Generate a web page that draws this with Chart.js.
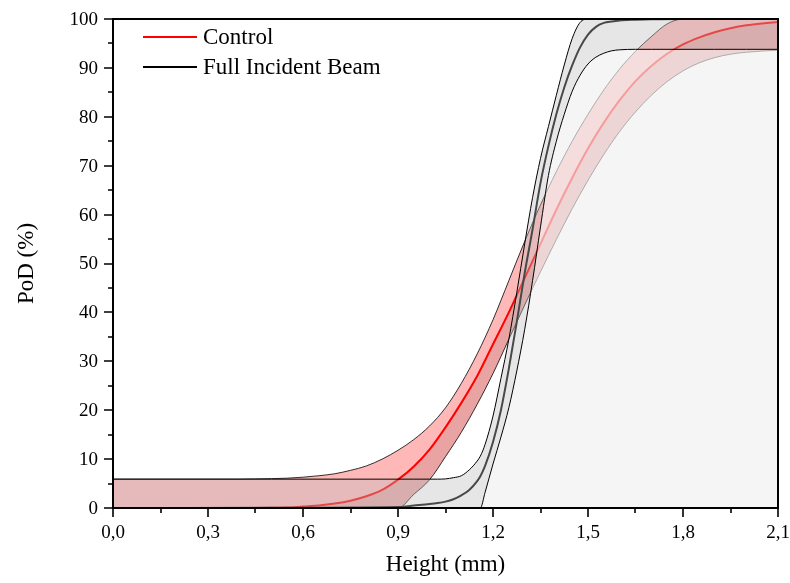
<!DOCTYPE html>
<html lang="en">
<head>
<meta charset="UTF-8">
<title>PoD vs Height</title>
<script src="https://cdn.jsdelivr.net/npm/chart.js"></script>
<style>
  body { margin: 0; background: #fff; }
  #wrap { width: 790px; height: 583px; }
</style>
</head>
<body>
<div id="wrap"><canvas id="podChart" width="790" height="583"></canvas></div>
<script>
// Control (red) curve and its confidence bounds
const redX = [0, 0.3, 0.4, 0.45, 0.5, 0.55, 0.6, 0.65, 0.7, 0.75, 0.8, 0.85, 0.9, 0.95, 1.0, 1.05, 1.1, 1.15, 1.2, 1.25, 1.3, 1.35, 1.4, 1.45, 1.5, 1.55, 1.6, 1.65, 1.7, 1.75, 1.8, 1.85, 1.9, 1.95, 2.0, 2.05, 2.1];
const controlMean  = [0, 0, 0.01, 0.02, 0.05, 0.1, 0.3, 0.5, 0.9, 1.5, 2.4, 3.7, 5.8, 8.5, 12.0, 16.5, 21.5, 27.0, 33.5, 40.0, 47.0, 54.0, 61.0, 67.5, 73.5, 78.8, 83.4, 87.3, 90.4, 92.9, 94.8, 96.2, 97.3, 98.1, 98.7, 99.1, 99.4];
const controlUpper = [5.9, 5.9, 5.9, 5.95, 6.0, 6.1, 6.3, 6.6, 7.0, 7.7, 8.6, 10.0, 11.8, 14.0, 16.8, 20.5, 25.5, 31.5, 38.5, 46.5, 54.5, 62.0, 68.8, 75.0, 80.5, 85.5, 89.8, 93.4, 96.4, 99.0, 100, 100, 100, 100, 100, 100, 100];
const controlLower = [0, 0, 0, 0, 0, 0, 0, 0, 0, 0, 0, 0, 0, 2.8, 5.8, 10.5, 15.5, 21.2, 27.5, 34.5, 41.5, 48.3, 54.9, 61.2, 67.0, 72.3, 77.0, 81.0, 84.4, 87.2, 89.4, 91.0, 92.1, 92.8, 93.2, 93.45, 93.6];

// Full Incident Beam (black) curve and its confidence bounds
const beamX = [0, 0.5, 0.9, 0.95, 1.0, 1.025, 1.05, 1.075, 1.1, 1.125, 1.15, 1.16, 1.175, 1.2, 1.225, 1.25, 1.275, 1.3, 1.325, 1.35, 1.375, 1.4, 1.425, 1.45, 1.475, 1.5, 1.525, 1.55, 1.575, 1.6, 1.65, 1.7, 1.8, 1.9, 2.0, 2.1];
const beamMean  = [0, 0.05, 0.2, 0.5, 0.8, 1.0, 1.3, 1.8, 2.6, 3.7, 5.5, 6.5, 8.6, 13.5, 20.0, 28.5, 38.0, 48.0, 57.0, 66.5, 74.0, 80.5, 86.0, 90.5, 94.2, 96.8, 98.4, 99.2, 99.5, 99.7, 99.85, 99.95, 100, 100, 100, 100];
const beamUpper = [5.9, 5.9, 5.9, 5.9, 5.9, 5.9, 5.95, 6.2, 6.6, 7.8, 9.6, 10.6, 13.0, 18.8, 26.5, 34.5, 44.0, 54.0, 63.5, 71.5, 78.0, 84.4, 90.6, 96.0, 99.3, 100, 100, 100, 100, 100, 100, 100, 100, 100, 100, 100];
const beamLower = [0, 0, 0, 0, 0, 0, 0, 0, 0, 0, 0, 0, 3.2, 9.0, 14.5, 20.5, 28.0, 36.5, 46.5, 57.5, 68.0, 75.0, 80.5, 85.2, 88.5, 90.8, 92.2, 93.0, 93.5, 93.7, 93.8, 93.8, 93.8, 93.8, 93.8, 93.8];

const xTicks = [0, 0.3, 0.6, 0.9, 1.2, 1.5, 1.8, 2.1];
const xTickLabels = ['0,0', '0,3', '0,6', '0,9', '1,2', '1,5', '1,8', '2,1'];
const yTicks = [0, 10, 20, 30, 40, 50, 60, 70, 80, 90, 100];
const yTickLabels = ['0', '10', '20', '30', '40', '50', '60', '70', '80', '90', '100'];

const legendLabels = ['Control', 'Full Incident Beam'];
const legendColors = ['#ff0000', '#000000'];

const FONT = '"Liberation Serif", "Times New Roman", serif';

function pts(xs, ys) {
    return xs.map((x, i) => ({ x: x, y: ys[i] }));
}

const common = { pointRadius: 0, cubicInterpolationMode: 'monotone' };

// dataset indices: 0 RU, 1 RL, 2 RM, 3 BM, 4 BU, 5 BL
const datasets = [
    Object.assign({ data: pts(redX, controlUpper), borderColor: '#000', borderWidth: 0.8,
        backgroundColor: 'rgba(255,0,0,0.28)', fill: 2, order: 60 }, common),
    Object.assign({ data: pts(redX, controlLower), borderColor: '#000', borderWidth: 0.8,
        backgroundColor: 'rgba(194,0,0,0.36)', fill: 2, order: 50 }, common),
    Object.assign({ data: pts(redX, controlMean), borderColor: '#ff0000', borderWidth: 2,
        fill: false, order: 40 }, common),
    Object.assign({ data: pts(beamX, beamMean), borderColor: '#000', borderWidth: 2,
        fill: false, order: 35 }, common),
    Object.assign({ data: pts(beamX, beamUpper), borderColor: '#000', borderWidth: 1,
        backgroundColor: 'rgba(189,189,189,0.38)', fill: 5, order: 30 }, common),
    Object.assign({ data: pts(beamX, beamLower), borderColor: '#000', borderWidth: 1,
        backgroundColor: 'rgba(240,240,240,0.65)', fill: 'origin', order: 20 }, common)
];

const axesPlugin = {
    id: 'axesPlugin',
    afterDraw(chart) {
        const { ctx, chartArea: a, scales } = chart;
        const xs = scales.x, ys = scales.y;
        ctx.save();
        ctx.strokeStyle = '#000';
        ctx.fillStyle = '#000';

        // frame
        ctx.lineWidth = 2;
        ctx.strokeRect(a.left, a.top, a.right - a.left, a.bottom - a.top);

        // ticks
        ctx.lineWidth = 1.6;
        ctx.beginPath();
        xTicks.forEach((v, i) => {
            const px = Math.round(xs.getPixelForValue(v));
            ctx.moveTo(px, a.bottom); ctx.lineTo(px, a.bottom + 9);
            if (i < xTicks.length - 1) {
                const mx = Math.round(xs.getPixelForValue((v + xTicks[i + 1]) / 2));
                ctx.moveTo(mx, a.bottom); ctx.lineTo(mx, a.bottom + 5);
            }
        });
        yTicks.forEach((v, i) => {
            const py = Math.round(ys.getPixelForValue(v));
            ctx.moveTo(a.left, py); ctx.lineTo(a.left - 9, py);
            if (i < yTicks.length - 1) {
                const my = Math.round(ys.getPixelForValue((v + yTicks[i + 1]) / 2));
                ctx.moveTo(a.left, my); ctx.lineTo(a.left - 5, my);
            }
        });
        ctx.stroke();

        // tick labels
        ctx.font = '19px ' + FONT;
        ctx.textAlign = 'center';
        ctx.textBaseline = 'alphabetic';
        xTicks.forEach((v, i) => {
            ctx.fillText(xTickLabels[i], xs.getPixelForValue(v), a.bottom + 30);
        });
        ctx.textAlign = 'right';
        ctx.textBaseline = 'middle';
        yTicks.forEach((v, i) => {
            ctx.fillText(yTickLabels[i], a.left - 15, ys.getPixelForValue(v) + 1);
        });

        // axis titles
        ctx.font = '23px ' + FONT;
        ctx.textAlign = 'center';
        ctx.textBaseline = 'alphabetic';
        ctx.fillText('Height (mm)', (a.left + a.right) / 2, 571);
        ctx.save();
        ctx.translate(33, (a.top + a.bottom) / 2);
        ctx.rotate(-Math.PI / 2);
        ctx.fillText('PoD (%)', 0, 0);
        ctx.restore();

        // legend
        ctx.font = '23px ' + FONT;
        ctx.textAlign = 'left';
        ctx.textBaseline = 'middle';
        legendLabels.forEach((lab, i) => {
            const ly = 37 + i * 30;
            ctx.strokeStyle = legendColors[i];
            ctx.lineWidth = 2;
            ctx.beginPath();
            ctx.moveTo(143, ly); ctx.lineTo(197, ly);
            ctx.stroke();
            ctx.fillStyle = '#000';
            ctx.fillText(lab, 203, ly + 1);
        });
        ctx.restore();
    }
};

new Chart(document.getElementById('podChart'), {
    type: 'line',
    data: { datasets: datasets },
    options: {
        responsive: false,
        animation: false,
        devicePixelRatio: 1,
        layout: { padding: { left: 113, right: 12, top: 19, bottom: 75 } },
        scales: {
            x: { type: 'linear', min: 0, max: 2.1, display: false },
            y: { type: 'linear', min: 0, max: 100, display: false }
        },
        plugins: {
            legend: { display: false },
            tooltip: { enabled: false },
            filler: { propagate: false, drawTime: 'beforeDatasetDraw' }
        }
    },
    plugins: [axesPlugin]
});
</script>
</body>
</html>
